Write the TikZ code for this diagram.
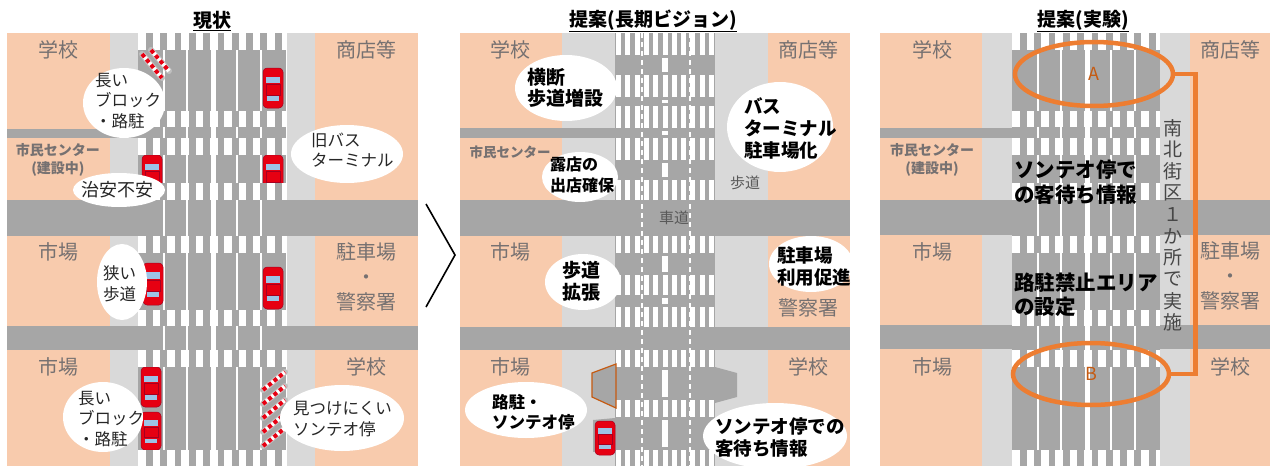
\documentclass[tikz,border=0pt]{standalone}
\usepackage{fontspec}
\setmainfont{Noto Sans CJK JP}
\usepackage{xcolor}
\usepackage{tikz}
\usetikzlibrary{shapes.geometric}
\definecolor{beige}{HTML}{F8CBAD}
\definecolor{walk}{HTML}{D9D9D9}
\definecolor{lane}{HTML}{A6A6A6}
\definecolor{labelgray}{HTML}{767171}
\definecolor{notegray}{HTML}{262626}
\definecolor{roadtext}{HTML}{595959}
\definecolor{org}{HTML}{ED7D31}
\definecolor{orgdark}{HTML}{C55A11}
\definecolor{carred}{HTML}{E60012}
\definecolor{carline}{HTML}{A50021}
\definecolor{glass}{HTML}{9DC3E6}
\definecolor{polegray}{HTML}{BFBFBF}
\tikzstyle{blocklabel} = [text=labelgray, font=\fontsize{20}{25}\selectfont, align=center, inner sep=0pt]
\tikzstyle{smalllabel} = [text=labelgray, font=\bfseries\fontsize{14}{18}\selectfont, align=center, inner sep=0pt]
\tikzstyle{roadlabel} = [text=roadtext, font=\fontsize{15}{18}\selectfont, inner sep=0pt]
\tikzstyle{title} = [font=\bfseries\fontsize{19}{22}\selectfont, inner sep=0pt]
\tikzstyle{bubble} = [ellipse, fill=white, inner sep=0pt]
\tikzstyle{note} = [text=notegray, font=\fontsize{16.5}{20.5}\selectfont, align=left, anchor=west, inner sep=0pt]
\tikzstyle{boldnote} = [text=black, font=\bfseries\fontsize{18.5}{22}\selectfont, align=left, anchor=west, inner sep=0pt]
\tikzstyle{ring} = [ellipse, draw=org, line width=4.5pt, text=orgdark, font=\fontsize{18}{20}\selectfont, inner sep=0pt]
\tikzstyle{vchar} = [text=notegray!85, font=\fontsize{19}{19}\selectfont, inner sep=0pt]

% 车道与车道线
\newcommand{\roadlanes}[1]{%
  \fill[lane] (#1,33) rectangle ({#1+148},466);
  \foreach \dx in {26,49,99,123}
    \draw[white, line width=1.5] ({#1+\dx},33) -- ({#1+\dx},466);
  \draw[white, line width=5] ({#1+75},33) -- ({#1+75},466);
}
% 人行横道
\newcommand{\crossings}[1]{%
  \foreach \ya/\yb in {33/50,111/127,138/155,183/200,236/253,310/326,350/367,450/466}{
    \fill[white] (#1,\ya) rectangle ({#1+148},\yb);
    \foreach \k in {0,...,9}
      \fill[lane] ({#1+8+14.3*\k},\ya) rectangle ({#1+14.8+14.3*\k},\yb);
  }
}
% 长期方案的车道
\newcommand{\zebraroad}[1]{%
  \fill[lane] (#1,33) rectangle ({#1+100},466);
  \draw[white, line width=1.2, dash pattern=on 5pt off 4pt]
    ({#1+27},33) -- ({#1+27},466) ({#1+75},33) -- ({#1+75},466);
  \foreach \ya/\yb in {55/75,97/106,128/138,160/180,253/275,295/307,367/400,417/450}
    \draw[white, line width=6] ({#1+50},{\ya+3}) -- ({#1+50},{\yb-3});
  \foreach \ya/\yb in {33/55,75/97,106/128,138/160,180/200,236/253,275/295,307/327,350/367,400/417,450/466}
    \foreach \k in {0,...,10}
      \fill[white] ({#1+1+9.3*\k},\ya) rectangle ({#1+6+9.3*\k},\yb);
}
% 汽车（俯视）
\newcommand{\drawcar}[3]{%
  \fill[carred, draw=carline, line width=.5, rounded corners=4]
    ({#1-10},{#2-#3/2}) rectangle ({#1+10},{#2+#3/2});
  \fill[glass] ({#1-7},{#2-#3*0.28}) rectangle ({#1+7},{#2-#3*0.12});
  \fill[glass] ({#1-6},{#2+#3*0.2}) rectangle ({#1+6},{#2+#3*0.32});
  \draw[carline, line width=.5] ({#1-7},{#2-#3*0.1}) rectangle ({#1+7},{#2+#3*0.17});
}
% 路障
\newcommand{\drawpole}[4]{%
  \draw[polegray, line width=6, line cap=round] (#1,#2) -- (#3,#4);
  \draw[white, line width=4] (#1,#2) -- (#3,#4);
  \draw[carred, line width=4, dash pattern=on 4pt off 3pt] (#1,#2) -- (#3,#4);
}

\begin{document}
\begin{tikzpicture}[x=1pt, y=-1pt]
\useasboundingbox (0,0) rectangle (1270,466);
\clip (0,0) rectangle (1270,466);

%%%% 現状
\fill[beige] (7,33) rectangle (110,466);
\fill[beige] (315,33) rectangle (418,466);
\fill[walk] (110,33) rectangle (138,466);
\fill[walk] (287,33) rectangle (315,466);
\fill[lane] (7,129) rectangle (138,138);
\fill[lane] (7,200) rectangle (418,236);
\fill[lane] (7,326) rectangle (418,350);
\roadlanes{138}
\drawcar{273}{88}{40}
\drawcar{152}{175}{40}
\drawcar{273}{175}{40}
\drawcar{153}{284}{42}
\drawcar{273}{288}{42}
\drawcar{151}{387}{40}
\drawcar{151}{431}{38}
\crossings{138}
\drawpole{142}{54}{162}{78}
\drawpole{151}{50}{169}{71}
\foreach \k in {0,...,4}
  \drawpole{263}{390+14*\k}{285}{372+14*\k};

\node (tit1) [title] at (212,21) {\underline{現状}};
\node (lab1) [blocklabel] at (58,50) {学校};
\node (lab2) [blocklabel] at (366,50) {商店等};
\node (lab3) [smalllabel] at (58,160) {市民センター\\(建設中)};
\node (lab4) [blocklabel] at (58,252) {市場};
\node (lab5) [blocklabel] at (366,277) {駐車場\\・\\警察署};
\node (lab6) [blocklabel] at (58,367) {市場};
\node (lab7) [blocklabel] at (366,367) {学校};

\node (bub1) [bubble, minimum width=82, minimum height=70] at (124,103) {};
\node (bub2) [bubble, minimum width=112, minimum height=58] at (347,154) {};
\node (bub3) [bubble, minimum width=92, minimum height=34] at (119,190) {};
\node (bub4) [bubble, minimum width=50, minimum height=76] at (122,282) {};
\node (bub5) [bubble, minimum width=80, minimum height=70] at (103,417) {};
\node (bub6) [bubble, minimum width=124, minimum height=66] at (342,418) {};
\node (txt1) [note] at (95,101) {長い\\ブロック\\・路駐};
\node (txt2) [note] at (311,150) {旧バス\\ターミナル};
\node (txt3) [note, anchor=center, font=\fontsize{18}{20}\selectfont] at (117,190) {治安不安};
\node (txt4) [note] at (103,284) {狭い\\歩道};
\node (txt5) [note] at (78,419) {長い\\ブロック\\・路駐};
\node (txt6) [note] at (293,419) {見つけにくい\\ソンテオ停};

% 箭头
\draw[line width=1.6] (426,204) -- (455,255) -- (426,307);

%%%% 提案(長期ビジョン)
\fill[beige] (460,33) rectangle (562,466);
\fill[beige] (768,33) rectangle (850,466);
\fill[walk] (562,33) rectangle (615,466);
\fill[walk] (715,33) rectangle (768,466);
\fill[lane] (460,128) rectangle (615,138);
\fill[lane] (460,200) rectangle (850,236);
\fill[lane] (460,327) rectangle (850,350);
\zebraroad{615}
% 公交站台
\fill[lane] (593,420) -- (615,418) -- (615,450) -- (593,452) -- cycle;
\filldraw[fill=lane, draw=orgdark, line width=1.2] (592,373) -- (616,364) -- (616,408) -- (592,397) -- cycle;
\fill[lane] (715,367) -- (737,373) -- (737,397) -- (715,403) -- cycle;
\drawcar{605}{438}{34}

\node (tit2) [title] at (653,21) {\underline{提案(長期ビジョン)}};
\node (lab8) [blocklabel] at (510,50) {学校};
\node (lab9) [blocklabel] at (808,50) {商店等};
\node (lab10) [smalllabel, font=\bfseries\fontsize{13.5}{16}\selectfont] at (510,152) {市民センター};
\node (lab11) [blocklabel] at (510,252) {市場};
\node (lab12) [blocklabel] at (808,308) {警察署};
\node (lab13) [blocklabel] at (510,367) {市場};
\node (lab14) [blocklabel] at (808,367) {学校};
\node (walk1) [roadlabel] at (745,183) {歩道};
\node (road1) [roadlabel] at (674,218) {車道};

\node (bub7) [bubble, minimum width=102, minimum height=66] at (566,88) {};
\node (bub8) [bubble, minimum width=106, minimum height=90] at (780,127) {};
\node (bub9) [bubble, minimum width=76, minimum height=50] at (580,177) {};
\node (bub10) [bubble, minimum width=76, minimum height=56] at (583,282) {};
\node (bub11) [bubble, minimum width=84, minimum height=56] at (811,264) {};
\node (bub12) [bubble, minimum width=122, minimum height=56] at (526,410) {};
\node (bub13) [bubble, minimum width=144, minimum height=66] at (775,436) {};
\node (txt7) [boldnote, font=\bfseries\fontsize{19}{21}\selectfont] at (527,88) {横断\\歩道増設};
\node (txt8) [boldnote] at (744,128) {バス\\ターミナル\\駐車場化};
\node (txt9) [boldnote, font=\bfseries\fontsize{16}{21}\selectfont] at (550,175) {露店の\\出店確保};
\node (txt10) [boldnote, font=\bfseries\fontsize{19}{22}\selectfont] at (562,281) {歩道\\拡張};
\node (txt11) [boldnote] at (777,266) {駐車場\\利用促進};
\node (txt12) [boldnote, font=\bfseries\fontsize{16.5}{20}\selectfont] at (492,412) {路駐・\\ソンテオ停};
\node (txt13) [boldnote] at (715,437) {ソンテオ停での\\客待ち情報};

%%%% 提案(実験)
\fill[beige] (880,33) rectangle (982,466);
\fill[beige] (1190,33) rectangle (1270,466);
\fill[walk] (982,33) rectangle (1013,466);
\fill[walk] (1160,33) rectangle (1190,466);
\fill[lane] (880,128) rectangle (1013,138);
\fill[lane] (880,200) rectangle (1270,235);
\fill[lane] (880,325) rectangle (1270,349);
\roadlanes{1012}
\crossings{1012}

\node (tit3) [title] at (1083,21) {\underline{提案(実験)}};
\node (lab15) [blocklabel] at (932,50) {学校};
\node (lab16) [blocklabel] at (1230,50) {商店等};
\node (lab17) [smalllabel] at (932,160) {市民センター\\(建設中)};
\node (lab18) [blocklabel] at (932,252) {市場};
\node (lab19) [blocklabel] at (1230,276) {駐車場\\・\\警察署};
\node (lab20) [blocklabel] at (932,367) {市場};
\node (lab21) [blocklabel] at (1230,367) {学校};

\node (txt14) [boldnote, font=\bfseries\fontsize{20.5}{25}\selectfont] at (1014,182) {ソンテオ停で\\の客待ち情報};
\node (txt15) [boldnote, font=\bfseries\fontsize{20.5}{24}\selectfont] at (1014,295) {路駐禁止エリア\\の設定};
\foreach \ch [count=\i] in {南,北,街,区,１,か,所,で,実,施}
  \node (v\i) [vchar] at (1173,{106.5+21.6*\i}) {\ch};

\node (ellA) [ring, minimum width=158, minimum height=64] at (1094,74) {A};
\node (ellB) [ring, minimum width=156, minimum height=62] at (1091,374) {B};
\draw[org, line width=4.5pt] (ellA.east) -- ++(20,0) |- (ellB.east);
\end{tikzpicture}
\end{document}
